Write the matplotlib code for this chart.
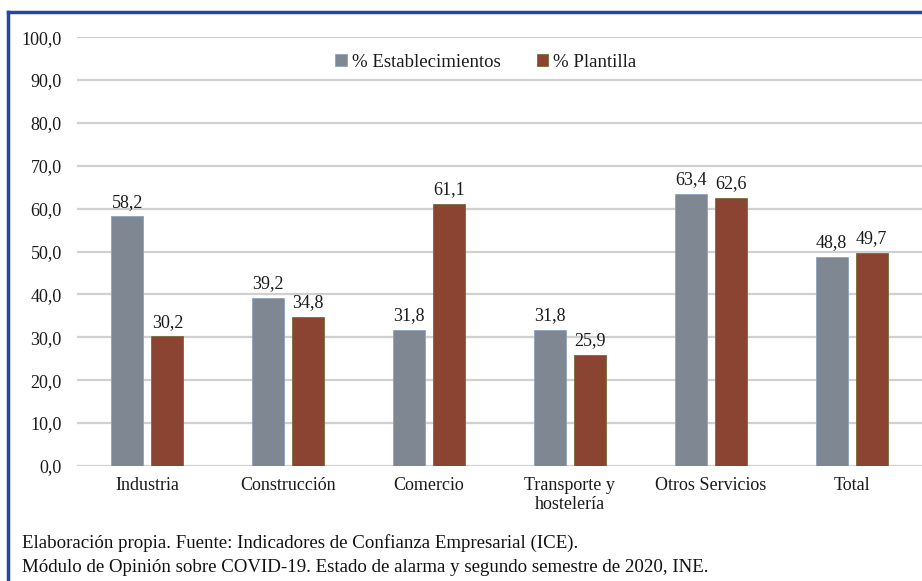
import numpy as np
import matplotlib.pyplot as plt
from matplotlib.lines import Line2D

plt.rcParams['font.family'] = ['Liberation Serif', 'DejaVu Serif']

# sectors and percentages
sectores = ['Industria', 'Construcción', 'Comercio', 'Transporte y\nhostelería',
            'Otros Servicios', 'Total']
establecimientos = [58.2, 39.2, 31.8, 31.8, 63.4, 48.8]
plantilla = [30.2, 34.8, 61.1, 25.9, 62.6, 49.7]

gris = '#7f8792'
teja = '#8b4431'

def coma(v):
  return ('%.1f' % v).replace('.', ',')

fig = plt.figure(figsize=(9.22, 5.81), dpi=100)
ax = fig.add_axes([0.0835, 0.198, 0.9165, 0.738])

x = np.arange(len(sectores))
w = 0.227
off = 0.142
b1 = ax.bar(x - off, establecimientos, w, color=gris, edgecolor='#8fa0c0', linewidth=0.6,
            label='% Establecimientos', zorder=3)
b2 = ax.bar(x + off, plantilla, w, color=teja, edgecolor='#7a6a3a', linewidth=0.6,
            label='% Plantilla', zorder=3)

for bars, vals in [(b1, establecimientos), (b2, plantilla)]:
  for r, v in zip(bars, vals):
    ax.annotate(coma(v), (r.get_x() + r.get_width() / 2, v), xytext=(0, 4),
                textcoords='offset points', ha='center', va='bottom',
                fontsize=13, color='#1a1a1a')

ax.set_xlim(-0.5, 5.5)
ax.set_ylim(0, 100)
ax.set_yticks(np.arange(0, 101, 10))
ax.set_yticklabels([coma(v) for v in np.arange(0, 101, 10)])
ax.set_xticks(x)
ax.set_xticklabels(sectores, linespacing=1.15)
ax.tick_params(length=0, labelsize=13, colors='#1a1a1a')
ax.tick_params(axis='y', pad=11)
ax.tick_params(axis='x', pad=8)
ax.yaxis.grid(True, color='#d0d0d0', linewidth=1.6, zorder=0)
for s in ax.spines.values():
  s.set_visible(False)
ax.set_axisbelow(True)

ax.legend(loc='upper center', bbox_to_anchor=(0.484, 1.0), ncol=2, frameon=False,
          fontsize=13.5, handlelength=0.6, handleheight=0.6, handletextpad=0.3,
          columnspacing=1.9, labelcolor='#1a1a1a')

# blue frame (top and left)
fig.add_artist(Line2D([8 / 922, 1.0], [1 - 12 / 581, 1 - 12 / 581], color='#2446a6',
                      linewidth=2.5, transform=fig.transFigure))
fig.add_artist(Line2D([8 / 922, 8 / 922], [0, 1 - 12 / 581], color='#2446a6',
                      linewidth=2.5, transform=fig.transFigure))

fig.text(22 / 922, 1 - 543 / 581, 'Elaboración propia. Fuente: Indicadores de Confianza Empresarial (ICE).',
         fontsize=13.6, va='center', color='#111111')
fig.text(22 / 922, 1 - 567 / 581, 'Módulo de Opinión sobre COVID-19. Estado de alarma y segundo semestre de 2020, INE.',
         fontsize=13.6, va='center', color='#111111')

fig.savefig('out.png', dpi=100)
